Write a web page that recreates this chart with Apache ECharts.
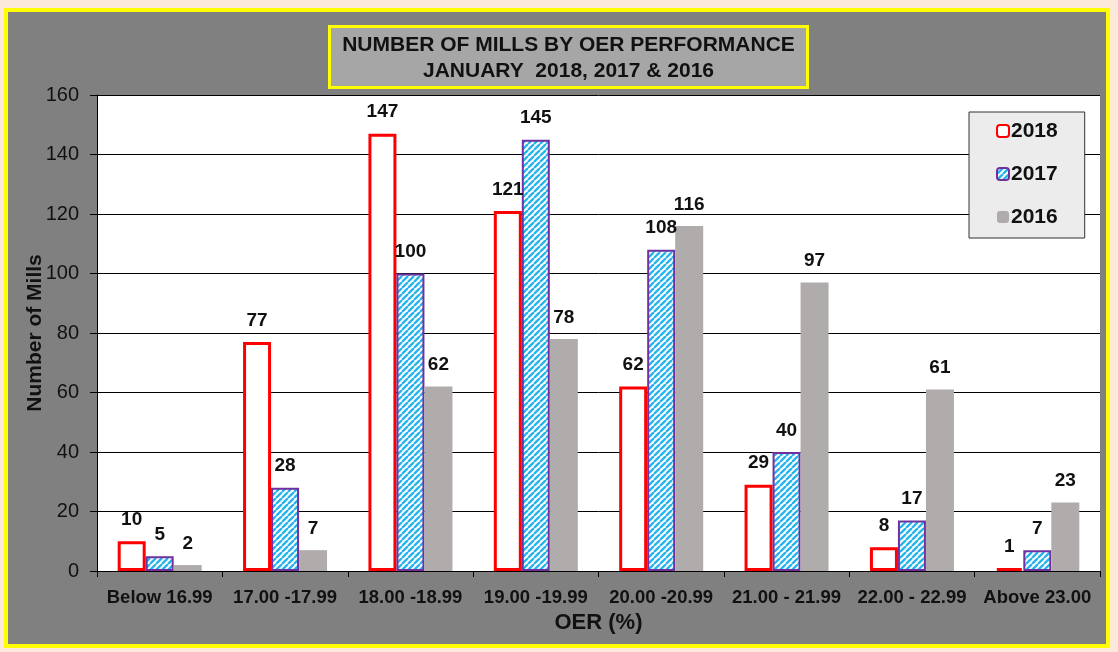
<!DOCTYPE html>
<html><head><meta charset="utf-8">
<script src="https://cdn.jsdelivr.net/npm/echarts@6/dist/echarts.min.js"></script>
<style>
html,body{margin:0;padding:0;background:#fde9d9;}
#frame{position:absolute;left:4px;top:8px;width:1106px;height:640px;background:#808080;border:4px solid #ffff00;box-sizing:border-box;}
#chart{position:absolute;left:0;top:0;width:1118px;height:652px;}
</style></head>
<body>
<div id="frame"></div>
<div id="chart"></div>
<script>
const categories = ['Below 16.99','17.00 -17.99','18.00 -18.99','19.00 -19.99','20.00 -20.99','21.00 - 21.99','22.00 - 22.99','Above 23.00'];
const seriesNames = ['2018','2017','2016'];
const values2018 = [10,77,147,121,62,29,8,1];
const values2017 = [5,28,100,145,108,40,17,7];
const values2016 = [2,7,62,78,116,97,61,23];
const yTicks = [0,20,40,60,80,100,120,140,160];

function stripes(){
  const s = 6;
  const c = document.createElement('canvas');
  c.width = s; c.height = s;
  const g = c.getContext('2d');
  g.fillStyle = '#ffffff'; g.fillRect(0,0,s,s);
  g.strokeStyle = '#2ab4ec'; g.lineWidth = 2.4;
  g.beginPath();
  for (let k=-s;k<=s;k+=s){ g.moveTo(k,s); g.lineTo(k+s,0); }
  g.stroke();
  return c;
}

const F = 'Liberation Sans';
const chart = echarts.init(document.getElementById('chart'), null, {renderer:'canvas'});
const labelStyle = {show:true, position:'top', distance:12, color:'#111', fontWeight:'bold', fontSize:19, fontFamily:F};
chart.setOption({
  backgroundColor:'transparent',
  animation:false,
  graphic:[{
    type:'group', left:328, top:25,
    children:[
      {type:'rect', shape:{x:0,y:0,width:478,height:61}, style:{fill:'#a6a6a6', stroke:'#ffff00', lineWidth:3}},
      {type:'text', style:{x:239,y:19,text:'NUMBER OF MILLS BY OER PERFORMANCE', align:'center', verticalAlign:'middle', font:'bold 21px "Liberation Sans"', fill:'#111'}},
      {type:'text', style:{x:239,y:45,text:'JANUARY  2018, 2017 & 2016', align:'center', verticalAlign:'middle', font:'bold 21px "Liberation Sans"', fill:'#111'}}
    ]
  }],
  legend:{
    orient:'vertical', left:969, top:112,
    padding:[8,27,10,27], itemGap:21,
    backgroundColor:'#ececec', borderColor:'#333', borderWidth:1,
    itemWidth:12, itemHeight:12,
    textStyle:{fontSize:21, lineHeight:22, fontWeight:'bold', color:'#111', fontFamily:F, padding:[0,0,0,-3]},
    data:seriesNames
  },
  grid:{left:97, right:18, top:95, bottom:81, backgroundColor:'#ffffff', show:true, borderWidth:0},
  xAxis:{
    type:'category', data:categories,
    name:'OER (%)', nameLocation:'middle', nameGap:40,
    nameTextStyle:{fontSize:22, fontWeight:'bold', color:'#111', fontFamily:F},
    axisLine:{lineStyle:{color:'#000', width:1}},
    axisTick:{show:true, length:6, lineStyle:{color:'#000'}},
    axisLabel:{fontSize:18.5, fontWeight:'bold', color:'#111', fontFamily:F, margin:17, interval:0}
  },
  yAxis:{
    type:'value', min:0, max:160, interval:20,
    name:'Number of Mills', nameLocation:'middle', nameGap:51, nameRotate:90, nameMoveOverlap:false,
    nameTextStyle:{fontSize:21, fontWeight:'bold', color:'#111', fontFamily:F},
    axisLine:{show:true, lineStyle:{color:'#000'}},
    axisTick:{show:true, length:7, inside:false, lineStyle:{color:'#000'}},
    axisLabel:{fontSize:20, color:'#111', fontFamily:F, margin:18,
      formatter:function(v){ return yTicks.indexOf(v)>=0 ? String(v) : ''; }},
    splitLine:{lineStyle:{color:'#000', width:1}}
  },
  series:[
    {name:seriesNames[0], type:'bar', data:values2018, barGap:'0%', barCategoryGap:'33%',
      itemStyle:{color:'#ffffff', borderColor:'#ff0000', borderWidth:3}, label:labelStyle},
    {name:seriesNames[1], type:'bar', data:values2017, barGap:'0%', barCategoryGap:'33%',
      itemStyle:{color:{image:stripes(), repeat:'repeat'}, borderColor:'#7030a0', borderWidth:2}, label:labelStyle},
    {name:seriesNames[2], type:'bar', data:values2016, barGap:'0%', barCategoryGap:'33%',
      itemStyle:{color:'#b0acac'}, label:labelStyle}
  ]
});
</script>
</body></html>
